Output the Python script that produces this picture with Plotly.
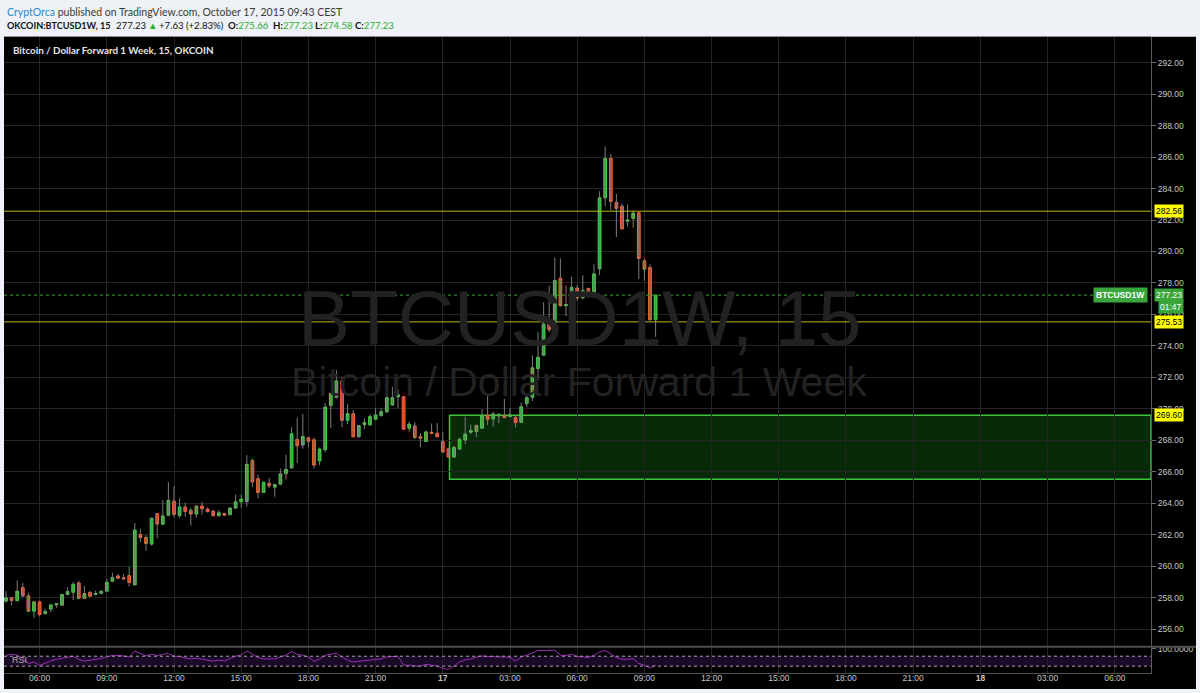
import plotly.graph_objects as go
import pandas as pd

# ---------------- data (15-minute candles, OKCOIN BTCUSD1W) ----------------
start_time = "2015-10-16 04:30"
n_bars = 117
times = pd.date_range(start_time, periods=n_bars, freq="15min")

opens = [
    257.79, 258.00, 257.81, 258.65, 258.12, 257.15, 257.74, 256.99, 257.28, 257.55,
    257.53, 258.21, 258.35, 258.94, 257.97, 258.35, 258.21, 258.29, 258.42, 259.05,
    259.39, 259.28, 259.41, 258.82, 262.02, 261.83, 261.41, 263.34, 262.67, 263.24,
    264.14, 263.22, 263.77, 263.56, 263.32, 263.83, 263.64, 263.51, 263.21, 263.36,
    263.28, 263.70, 264.10, 264.12, 266.73, 265.57, 264.69, 265.28, 265.03, 265.22,
    265.89, 266.25, 268.06, 267.70, 268.16, 268.04, 266.69, 267.40, 270.21, 270.73,
    271.78, 269.28, 269.70, 268.23, 269.00, 268.98, 269.34, 269.57, 269.81, 270.25,
    270.77, 270.77, 268.77, 268.92, 268.23, 267.93, 268.52, 268.46, 267.93, 267.47,
    266.94, 267.45, 268.02, 268.52, 268.56, 268.77, 269.60, 269.36, 269.55, 269.57,
    269.51, 269.45, 269.15, 270.33, 270.73, 272.56, 273.41, 275.45, 275.03, 278.31,
    276.55, 276.94, 277.68, 277.05, 277.66, 277.11, 278.90, 283.41, 285.91, 283.13,
    282.88, 281.93, 282.10, 282.46, 279.41, 278.99, 275.66]
closes = [
    258.00, 257.83, 258.42, 258.12, 257.15, 257.74, 256.94, 257.13, 257.55, 257.62,
    258.21, 258.40, 258.86, 257.97, 258.27, 258.10, 258.27, 258.42, 258.99, 259.28,
    259.24, 259.20, 258.97, 262.31, 261.83, 261.45, 263.05, 262.69, 263.20, 264.19,
    263.30, 263.77, 263.49, 263.32, 263.83, 263.66, 263.47, 263.22, 263.40, 263.24,
    263.70, 264.10, 264.27, 266.48, 265.36, 264.69, 265.34, 265.11, 265.19, 265.87,
    266.16, 268.42, 267.66, 268.25, 267.95, 266.43, 267.45, 270.12, 270.98, 271.78,
    269.28, 269.70, 268.23, 268.94, 269.13, 269.51, 269.62, 269.83, 270.71, 270.71,
    270.90, 268.71, 269.03, 268.18, 268.14, 268.54, 268.44, 268.23, 267.26, 266.94,
    267.55, 268.06, 268.40, 268.63, 268.94, 269.60, 269.34, 269.68, 269.66, 269.45,
    269.62, 269.13, 270.14, 270.71, 272.61, 273.28, 275.39, 275.03, 278.15, 276.55,
    276.63, 277.72, 277.05, 277.53, 277.20, 278.58, 283.41, 285.91, 283.18, 282.73,
    281.43, 282.00, 282.44, 279.55, 278.88, 275.66, 277.23]
highs = [
    258.42, 258.04, 259.09, 258.94, 258.33, 257.78, 257.83, 257.30, 257.55, 257.62,
    258.21, 258.67, 258.99, 259.09, 258.75, 258.42, 258.46, 258.46, 259.18, 259.60,
    259.51, 259.51, 259.98, 262.75, 262.38, 261.98, 263.11, 263.39, 264.21, 265.34,
    265.09, 264.31, 264.04, 263.72, 263.83, 264.10, 263.74, 263.58, 263.57, 263.40,
    263.76, 264.56, 264.56, 267.05, 266.84, 265.83, 265.40, 265.62, 265.24, 266.21,
    267.09, 268.84, 269.45, 269.68, 268.23, 268.18, 267.55, 270.37, 270.98, 272.46,
    272.04, 270.33, 269.93, 268.94, 269.40, 269.66, 270.04, 270.08, 270.84, 271.41,
    271.24, 270.82, 269.20, 269.17, 268.46, 268.61, 269.07, 269.09, 268.56, 267.53,
    267.68, 268.18, 269.51, 269.00, 269.00, 269.99, 270.86, 269.83, 269.70, 270.63,
    270.04, 269.62, 270.40, 270.84, 273.41, 274.88, 276.78, 277.83, 279.62, 279.56,
    277.83, 278.40, 277.89, 278.50, 277.66, 279.22, 283.83, 286.67, 286.19, 283.66,
    283.03, 282.99, 282.61, 282.46, 279.56, 279.20, 277.23]
lows = [
    257.68, 257.51, 257.79, 258.02, 257.11, 256.71, 256.82, 256.94, 257.09, 257.36,
    257.51, 258.14, 257.85, 257.91, 257.95, 258.04, 258.14, 258.21, 258.35, 258.99,
    259.20, 259.15, 258.73, 258.80, 261.53, 260.99, 261.32, 261.77, 262.63, 263.20,
    263.11, 263.09, 263.16, 262.59, 263.09, 263.28, 263.43, 263.16, 263.17, 263.21,
    263.24, 263.64, 263.72, 263.80, 265.03, 264.31, 264.65, 264.98, 264.42, 265.15,
    265.51, 266.21, 266.56, 267.47, 267.55, 266.20, 266.42, 267.26, 268.77, 270.67,
    268.84, 269.03, 268.18, 268.18, 268.71, 268.92, 269.30, 269.53, 269.76, 270.19,
    270.04, 268.67, 268.56, 268.10, 267.57, 267.89, 268.39, 268.18, 267.19, 266.88,
    266.88, 267.40, 267.76, 268.40, 268.21, 268.75, 268.98, 268.86, 269.09, 269.40,
    269.47, 268.82, 269.13, 270.10, 270.50, 271.83, 273.37, 274.88, 274.99, 276.50,
    275.89, 276.12, 276.88, 276.99, 277.07, 277.09, 278.50, 282.88, 282.63, 280.92,
    281.43, 281.58, 281.51, 278.25, 278.14, 275.62, 274.58]
rsi_values = [
    74, 78, 74, 61, 41, 47, 33, 43, 51, 57,
    61, 67, 70, 57, 50, 54, 57, 61, 67, 73,
    74, 70, 67, 91, 81, 71, 78, 73, 77, 81,
    70, 69, 63, 59, 62, 57, 54, 50, 54, 51,
    61, 70, 75, 91, 78, 65, 59, 58, 59, 67,
    74, 89, 77, 74, 67, 49, 59, 74, 78, 82,
    67, 54, 47, 50, 53, 55, 57, 59, 67, 70,
    70, 34, 34, 30, 30, 37, 34, 30, 21, 17,
    30, 47, 55, 59, 67, 71, 69, 69, 70, 67,
    65, 50, 67, 74, 83, 93, 94, 93, 94, 74,
    73, 78, 69, 67, 65, 74, 87, 93, 78, 65,
    58, 57, 61, 41, 33, 23, 34]

price_ticks = [256, 258, 260, 262, 264, 266, 268, 270, 272, 274, 276, 278,
               280, 282, 284, 286, 288, 290, 292]
xtick_start = "2015-10-16 06:00"
xtick_text = ["06:00", "09:00", "12:00", "15:00", "18:00", "21:00", "<b>17</b>",
              "03:00", "06:00", "09:00", "12:00", "15:00", "18:00", "21:00",
              "<b>18</b>", "03:00", "06:00"]
xtick_vals = pd.date_range(xtick_start, periods=len(xtick_text), freq="3h")

resistance_levels = [282.56, 275.53]
last_price = 277.23
zone_top, zone_bottom = 269.60, 265.53
zone_start = "2015-10-17 00:18"
x_range = ["2015-10-16 04:24:38", "2015-10-18 07:37"]
y_range = [254.92, 293.64]
rsi_range = [2, 106]
rsi_bands = [30, 70]

symbol_text = "OKCOIN:BTCUSD1W, 15"
last_text = "277.23"
change_text = "+7.63 (+2.83%)"
ohlc_labels = ["O:", "H:", "L:", "C:"]
ohlc_values = ["275.66", "277.23", "274.58", "277.23"]

# ---------------- helpers ----------------
W, H = 1200, 693
def px(v):
    return v / W
def py(v):
    return 1 - v / H

body_hi = [max(o, c) for o, c in zip(opens, closes)]
body_lo = [min(o, c) for o, c in zip(opens, closes)]
wick_x, wick_y = [], []
for t, lo, hi in zip(times, lows, highs):
    wick_x += [t, t, None]
    wick_y += [lo, hi, None]

fig = go.Figure()
fig.add_trace(go.Scatter(x=wick_x, y=wick_y, mode="lines",
                         line=dict(color="#7c7c7c", width=1),
                         hoverinfo="skip", showlegend=False))
fig.add_trace(go.Candlestick(
    x=times, open=opens, high=body_hi, low=body_lo, close=closes,
    increasing=dict(fillcolor="#33b033", line=dict(color="#4ccc4c", width=1)),
    decreasing=dict(fillcolor="#e62a18", line=dict(color="#f56a3a", width=1)),
    whiskerwidth=0, showlegend=False, hoverinfo="skip"))
fig.add_trace(go.Scatter(x=times, y=rsi_values, xaxis="x", yaxis="y2", mode="lines",
                         line=dict(color="#9a2fb5", width=1),
                         hoverinfo="skip", showlegend=False))

grid = "#242424"
tick_font = dict(family="Liberation Sans, Arial, sans-serif", size=8.5, color="#c6c6c6")

shapes = [
    dict(type="rect", xref="paper", yref="paper", x0=px(4), x1=px(1196),
         y0=py(689), y1=py(33), fillcolor="#000000", line=dict(width=0), layer="below"),
    dict(type="rect", xref="x", yref="y", x0=zone_start, x1=x_range[1],
         y0=zone_bottom, y1=zone_top, fillcolor="rgba(20,110,20,0.38)",
         line=dict(color="#3cc43c", width=1.5), layer="below"),
    dict(type="rect", xref="x", yref="y2", x0=x_range[0], x1=x_range[1],
         y0=rsi_bands[0], y1=rsi_bands[1], fillcolor="#1b0a27",
         line=dict(width=0), layer="below"),
    dict(type="line", xref="x", yref="y", x0=x_range[0], x1=x_range[1],
         y0=last_price, y1=last_price, line=dict(color="#2fae2f", width=1, dash="dot")),
    dict(type="line", xref="paper", yref="paper", x0=px(4), x1=px(1196),
         y0=py(646.5), y1=py(646.5), line=dict(color="#4e4e4e", width=2)),
]
for lvl in resistance_levels:
    shapes.append(dict(type="line", xref="x", yref="y", x0=x_range[0], x1=x_range[1],
                       y0=lvl, y1=lvl, line=dict(color="#b8b81c", width=1)))
for b in rsi_bands:
    shapes.append(dict(type="line", xref="x", yref="y2", x0=x_range[0], x1=x_range[1],
                       y0=b, y1=b, line=dict(color="#a8a8a8", width=1, dash="dot")))

head_font = "Lato, Open Sans, sans-serif"
GREEN = "#2fae2f"
P = dict(xref="paper", yref="paper", showarrow=False)
def head2(text, x, color="#111111", size=9.6):
    return dict(text=text, x=px(x), y=py(22), xanchor="left", yanchor="middle",
                font=dict(family=head_font, size=size, color=color), **P)

annotations = [
    dict(text="<span style='color:#2a8ad4'>CryptOrca</span> published on TradingView.com, October 17, 2015 09:43 CEST",
         x=px(5), y=py(8), xanchor="left", yanchor="middle",
         font=dict(family=head_font, size=10.5, color="#3a3a3a"), **P),
    head2(f"<b>{symbol_text}</b>", 5, size=9.1),
    head2(last_text, 114),
    head2("▲", 146, GREEN),
    head2(change_text, 157),
]
for lab, val, xpos in zip(ohlc_labels, ohlc_values, [226, 271, 313, 353]):
    annotations.append(head2(f"<b>{lab}</b><span style='color:{GREEN}'>{val}</span>", xpos))

annotations += [
    dict(text="<b>Bitcoin / Dollar Forward 1 Week, 15, OKCOIN</b>",
         x=px(11), y=py(46), xanchor="left", yanchor="middle",
         font=dict(family=head_font, size=9.8, color="#e6e6e6"), **P),
    dict(text="BTCUSD1W, 15", x=px(579), y=py(316), xanchor="center", yanchor="middle",
         font=dict(family="Liberation Sans, Arial, sans-serif", size=78, color="#222222"), **P),
    dict(text="Bitcoin / Dollar Forward 1 Week", x=px(579), y=py(380), xanchor="center",
         yanchor="middle",
         font=dict(family="Liberation Sans, Arial, sans-serif", size=41, color="#222222"), **P),
    dict(text="RSI", x=px(10), y=py(660), xanchor="left", yanchor="middle",
         font=dict(family="Liberation Sans, Arial, sans-serif", size=9, color="#b0b0b0"), **P),
]
label_font = dict(family="Liberation Sans, Arial, sans-serif", size=8.5)
for lvl in resistance_levels + [zone_top]:
    annotations.append(dict(text=f"{lvl:.2f}", xref="paper", yref="y", x=px(1154), y=lvl,
                            xanchor="left", yanchor="middle", showarrow=False,
                            bgcolor="#ffff00", borderpad=1,
                            font=dict(color="#000000", **label_font)))
annotations += [
    dict(text="<b>BTCUSD1W</b>", xref="paper", yref="y", x=px(1148), y=last_price,
         xanchor="right", yanchor="middle", showarrow=False, bgcolor="#3aa53a", borderpad=2,
         font=dict(color="#ffffff", **label_font)),
    dict(text=f"{last_price:.2f}", xref="paper", yref="y", x=px(1154), y=last_price,
         xanchor="left", yanchor="middle", showarrow=False, bgcolor="#3aa53a", borderpad=1,
         font=dict(color="#ffffff", **label_font)),
    dict(text="01:47", x=px(1158), y=py(305), xanchor="left", yanchor="middle",
         bgcolor="#3aa53a", borderpad=1, font=dict(color="#ffffff", **label_font), **P),
]

fig.update_layout(
    width=W, height=H, margin=dict(l=0, r=0, t=0, b=0),
    paper_bgcolor="#eef1f5", plot_bgcolor="#000000",
    showlegend=False, shapes=shapes, annotations=annotations,
    xaxis=dict(domain=[px(4), px(1151)], range=x_range, type="date", anchor="y2",
               tickvals=list(xtick_vals), ticktext=xtick_text, tickfont=tick_font,
               showgrid=True, gridcolor=grid, gridwidth=1, zeroline=False,
               showline=True, linecolor="#4e4e4e", linewidth=1,
               ticks="", ticklabelstandoff=-3,
               rangeslider=dict(visible=False), fixedrange=True),
    yaxis=dict(domain=[py(646), py(33)], range=y_range, side="right", anchor="x",
               tickvals=price_ticks, ticktext=[f"{v:.2f}" for v in price_ticks],
               tickfont=tick_font, showgrid=True, gridcolor=grid, zeroline=False,
               showline=True, linecolor="#5a5a5a", ticks="outside", ticklen=4,
               tickcolor="#6a6a6a"),
    yaxis2=dict(domain=[py(673), py(647)], range=rsi_range, side="right", anchor="x",
                tickvals=[100], ticktext=["100.0000"], tickfont=tick_font,
                showgrid=False, zeroline=False, showline=True, linecolor="#5a5a5a",
                ticks="outside", ticklen=4, tickcolor="#6a6a6a"),
)

fig.write_html("out.html", config={"displayModeBar": False},
               post_script="document.body.style.margin='0';document.body.style.padding='0';")
